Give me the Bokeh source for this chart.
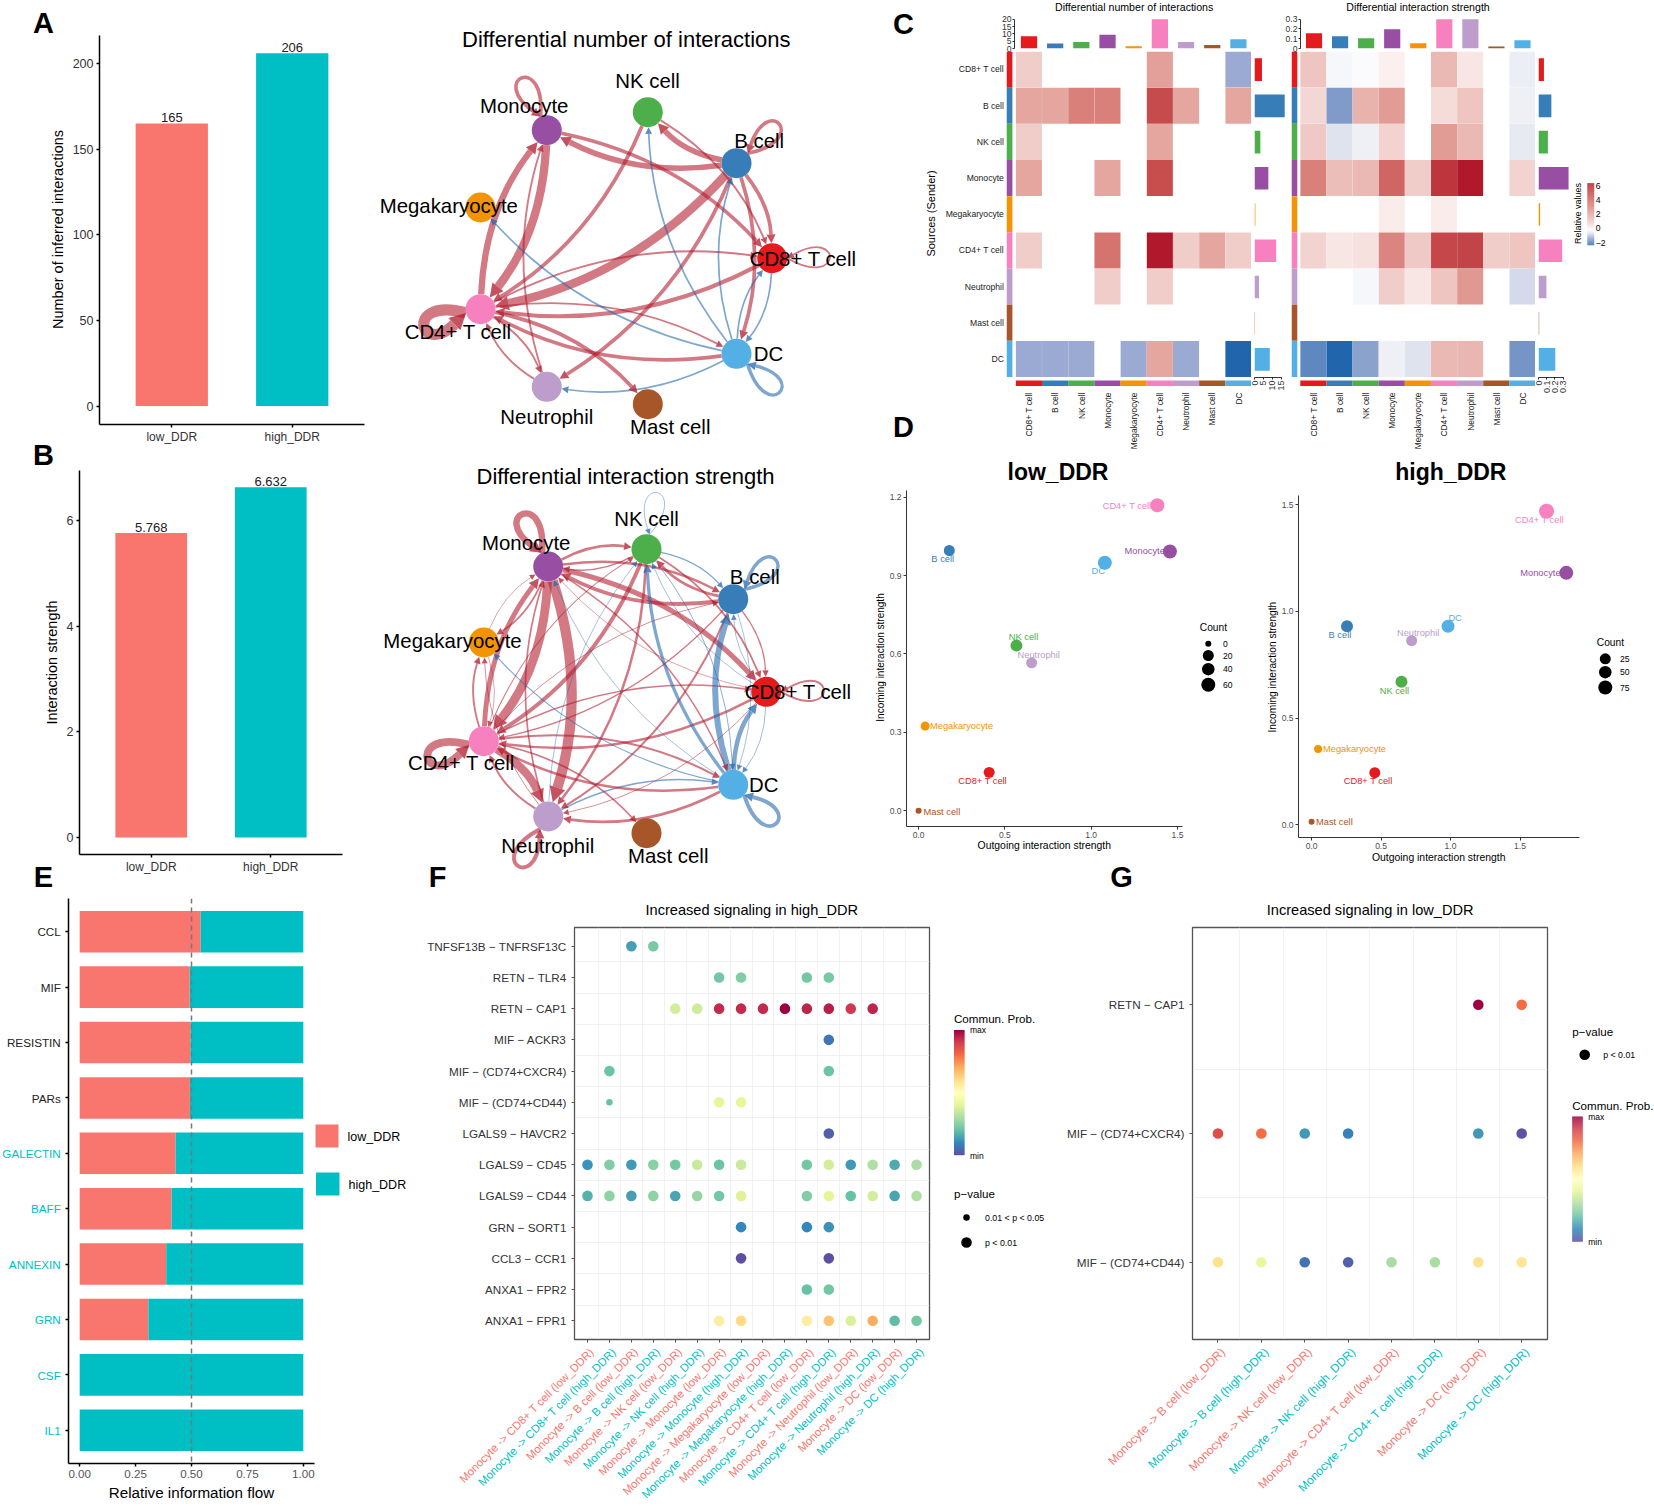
import numpy as np
from bokeh.plotting import figure
from bokeh.models import Range1d, FixedTicker, Column, LinearColorMapper, Span, ColumnDataSource, NumeralTickFormatter
from bokeh.core.properties import value
from bokeh.transform import transform
from bokeh.palettes import Spectral
from bokeh.embed import file_html
from bokeh.resources import INLINE

FONT = "Liberation Sans"
LOW = "#F8766D"
HIGH = "#00BFC4"

# ---------------------------------------------------------------- data
GROUPS = ["low_DDR", "high_DDR"]
A_VALUES = [165, 206]
B_VALUES = [5.768, 6.632]

NODES = ["CD8+ T cell", "B cell", "NK cell", "Monocyte", "Megakaryocyte", "CD4+ T cell", "Neutrophil", "Mast cell", "DC"]
NODE_COLORS = ["#E41A1C", "#377EB8", "#4DAF4A", "#984EA3", "#F29403", "#F781BF", "#BC9DCC", "#A65628", "#54B0E4"]

COUNT_DIFF = [
    [1, 0, 0, 0, 0, 2.2, 0, 0, -1],
    [2, 2, 3, 3, 0, 4.6, 2, 0, 2],
    [1, 0, 0, 0, 0, 2, 0, 0, 0],
    [2, 0, 0, 2, 0, 4.5, 0, 0, 0],
    [0, 0, 0, 0, 0, 0, 0, 0, 0],
    [1, 0, 0, 3.4, 0, 6, 1, 2, 1],
    [0, 0, 0, 1, 0, 1, 0, 0, 0],
    [0, 0, 0, 0, 0, 0, 0, 0, 0],
    [-1, -1, -1, 0, -1, 2, -1, 0, -2],
]
STRENGTH_DIFF = [
    [1.2, -0.1, -0.05, 0.3, 0, 1.5, 0.5, 0, -0.25],
    [0.8, -1.2, 1.7, 2.3, 0, 0.7, 1.2, 0, -0.2],
    [1.1, -0.4, -0.2, 0.9, 0, 2.3, 1.5, 0, -0.3],
    [3.0, 1.4, 1.5, 3.8, 1.0, 5.2, 6.0, 0, 0.9],
    [0, 0, 0, 0.4, 0, 0.4, 0, 0, 0],
    [0.9, 0.5, 0.6, 2.9, 1.1, 4.7, 4.8, 1.0, 1.2],
    [0, 0, -0.1, 1.0, 0.5, 1.2, 2.4, 0, -0.5],
    [0, 0, 0, 0, 0, 0, 0, 0, 0],
    [-1.5, -2, -1.1, -0.2, -0.4, 1.5, 1.6, 0, -1.3],
]
COUNT_TOP = [8.3, 3.4, 4.4, 9.4, 1.6, 20, 4.4, 2.4, 6.4]
COUNT_RIGHT = [4.2, 17, 3.3, 7.8, 0.5, 12.2, 2.5, 0.3, 8.6]
STRENGTH_TOP = [0.155, 0.125, 0.105, 0.197, 0.055, 0.3, 0.3, 0.02, 0.085]
STRENGTH_RIGHT = [0.066, 0.156, 0.114, 0.365, 0.02, 0.287, 0.096, 0.008, 0.204]

NET1_X = [771.7, 736, 647.3, 546.3, 480, 480, 546.3, 647.3, 736]
NET1_Y = [257.7, 162.7, 111.7, 129.7, 207, 308.7, 386.3, 403.7, 353.3]
NET2_X = [765.7, 732.7, 646, 547.7, 483.3, 483.3, 547.7, 646, 732.7]
NET2_Y = [691.3, 598.7, 548.7, 566, 642, 740.7, 816, 832.7, 784.3]
LOOP_DX = [1, 0.75, 0.2, -0.42, -1, -0.97, -0.54, 0.2, 0.73]
LOOP_DY = [0, -0.66, -0.98, -0.91, 0, 0.25, 0.84, 0.98, 0.68]
NET1_LABEL_X = [802.7, 758.7, 647, 523.7, 448.3, 457.7, 546.3, 669.7, 768]
NET1_LABEL_Y = [258.3, 140.7, 80.7, 105, 205, 331, 416, 426.3, 353]
NET2_LABEL_X = [797.7, 754.3, 646, 525.7, 452, 461, 547.3, 667.7, 763.3]
NET2_LABEL_Y = [691.3, 576.7, 518.3, 542.3, 640.7, 762.3, 845.7, 855, 784.3]

D_LOW_X = [0.409, 0.178, 0.567, 1.456, 0.038, 1.383, 0.655, 0.0, 1.079]
D_LOW_Y = [0.147, 0.996, 0.632, 0.992, 0.324, 1.169, 0.566, 0.0, 0.949]
D_LOW_SIZE = [11, 11, 12, 14, 9, 14, 11, 6, 14]
D_LOW_LABEL_X = [0.371, 0.14, 0.608, 1.31, 0.249, 1.208, 0.696, 0.135, 1.041]
D_LOW_LABEL_Y = [0.114, 0.964, 0.664, 0.994, 0.324, 1.168, 0.597, -0.005, 0.918]
D_HIGH_X = [0.455, 0.255, 0.647, 1.833, 0.047, 1.691, 0.72, 0.0, 0.982]
D_HIGH_Y = [0.244, 0.93, 0.67, 1.18, 0.355, 1.469, 0.8625, 0.014, 0.93]
D_HIGH_SIZE = [11, 12, 12, 14, 8, 15, 11, 6, 13]
D_HIGH_LABEL_X = [0.407, 0.204, 0.596, 1.647, 0.309, 1.64, 0.767, 0.164, 1.033]
D_HIGH_LABEL_Y = [0.205, 0.889, 0.628, 1.181, 0.355, 1.428, 0.9, 0.014, 0.967]

E_PATHWAYS = ["CCL", "MIF", "RESISTIN", "PARs", "GALECTIN", "BAFF", "ANNEXIN", "GRN", "CSF", "IL1"]
E_LOW_SHARE = [0.541, 0.492, 0.495, 0.493, 0.429, 0.411, 0.387, 0.307, 0.0, 0.0]
E_LABEL_COLORS = ["#222222"] * 4 + [HIGH] * 6

N = None
F_ROWS = ["TNFSF13B \u2212 TNFRSF13C", "RETN \u2212 TLR4", "RETN \u2212 CAP1", "MIF \u2212 ACKR3",
          "MIF \u2212 (CD74+CXCR4)", "MIF \u2212 (CD74+CD44)", "LGALS9 \u2212 HAVCR2", "LGALS9 \u2212 CD45",
          "LGALS9 \u2212 CD44", "GRN \u2212 SORT1", "CCL3 \u2212 CCR1", "ANXA1 \u2212 FPR2", "ANXA1 \u2212 FPR1"]
F_TARGETS = ["CD8+ T cell", "B cell", "NK cell", "Monocyte", "Megakaryocyte", "CD4+ T cell", "Neutrophil", "DC"]
F_PROB = [
    [N, N, .14, .23, N, N, N, N, N, N, N, N, N, N, N, N],
    [N, N, N, N, N, N, .22, .24, N, N, .22, .23, N, N, N, N],
    [N, N, N, N, .37, .36, .93, .93, .93, 1.0, .94, .95, .91, .94, N, N],
    [N, N, N, N, N, N, N, N, N, N, N, .07, N, N, N, N],
    [N, .21, N, N, N, N, N, N, N, N, N, .21, N, N, N, N],
    [N, .20, N, N, N, N, .41, .41, N, N, N, N, N, N, N, N],
    [N, N, N, N, N, N, N, N, N, N, N, .03, N, N, N, N],
    [.12, .24, .13, .25, .22, .35, .21, .35, N, N, .22, .37, .13, .31, .16, .30],
    [.17, .26, .14, .26, .15, .27, .22, .39, N, N, .24, .40, .20, .37, .15, .31],
    [N, N, N, N, N, N, N, .10, N, N, .10, .12, N, N, N, N],
    [N, N, N, N, N, N, N, 0.0, N, N, N, 0.0, N, N, N, N],
    [N, N, N, N, N, N, N, N, N, N, .20, .22, N, N, N, N],
    [N, N, N, N, N, N, .56, .61, N, N, .56, .66, .38, .70, .19, .22],
]
G_ROWS = ["RETN \u2212 CAP1", "MIF \u2212 (CD74+CXCR4)", "MIF \u2212 (CD74+CD44)"]
G_TARGETS = ["B cell", "NK cell", "CD4+ T cell", "DC"]
G_PROB = [
    [N, N, N, N, N, N, 1.0, .80],
    [.87, .80, .13, .09, N, N, .13, .01],
    [.59, .42, .06, .03, .30, .30, .59, .58],
]


# ---------------------------------------------------------------- helpers
def hex2rgb(h):
    return np.array([int(h[i:i + 2], 16) for i in (1, 3, 5)], dtype=float)


def rgb2hex(c):
    return "#%02x%02x%02x" % tuple(int(round(v)) for v in c)


def interp_palette(stops, n=256):
    arr = np.array([hex2rgb(s) for s in stops])
    pos = np.linspace(0, 1, len(stops))
    t = np.linspace(0, 1, n)
    return [rgb2hex([np.interp(v, pos, arr[:, k]) for k in range(3)]) for v in t]


def stops_palette(levels, colors, n=256):
    arr = np.array([hex2rgb(s) for s in colors])
    t = np.linspace(levels[0], levels[-1], n)
    return [rgb2hex([np.interp(v, levels, arr[:, k]) for k in range(3)]) for v in t]


SPECTRAL = interp_palette(list(Spectral[11]))
DIVERGING = stops_palette([-2, -1, -0.4, 0, 1, 2, 3, 4.5, 6],
                          ["#2166ac", "#9aaad2", "#dfe3ee", "#ffffff", "#f0cdc9", "#e5a7a1", "#d9817b", "#c84f4f",
                           "#b2182b"])

figs = []


def panel(l, t, r, b, xr, yr, bl=0, br=0, bt=0, bb=0, xaxis=True, yaxis=True):
    l, t, r, b = round(l), round(t), round(r), round(b)
    kw = {}
    if not xaxis:
        kw["x_axis_location"] = None
    if not yaxis:
        kw["y_axis_location"] = None
    p = figure(width=r - l + bl + br, height=b - t + bt + bb, x_range=Range1d(*xr), y_range=Range1d(*yr),
               tools="", toolbar_location=None, output_backend="svg", frame_align=False,
               min_border_left=bl, min_border_right=br, min_border_top=bt, min_border_bottom=bb,
               background_fill_color=None, border_fill_color=None, outline_line_color=None,
               styles={"position": "absolute", "left": f"{l - bl}px", "top": f"{t - bt}px"}, **kw)
    p.grid.visible = False
    figs.append(p)
    return p


def style_axis(ax, ticks, overrides=None, size=11, color="#333333", line="#000000", lw=1.0, font=FONT,
               standoff=3, tick=3):
    ax.ticker = FixedTicker(ticks=ticks)
    if overrides is not None:
        ax.major_label_overrides = overrides
    ax.minor_tick_line_color = None
    ax.major_tick_in = 0
    ax.major_tick_out = tick
    ax.axis_line_color = line
    ax.axis_line_width = lw
    ax.major_tick_line_color = line
    ax.major_tick_line_width = lw
    ax.major_label_text_font_size = f"{size}px"
    ax.major_label_text_color = color
    ax.major_label_text_font = font
    ax.major_label_standoff = standoff


canvas_ops = []


def T(x, y, s, size, color="#000000", align="center", base="middle", angle=0, font=FONT, style="normal"):
    canvas_ops.append(dict(x=x, y=y, s=s, size=size, color=color, align=align, base=base, angle=angle,
                           font=font, style=style))


def R(l, t, r, b, color):
    canvas_ops.append(dict(rect=(l, t, r, b), color=color))


def C(x, y, d, color="#000000"):
    canvas_ops.append(dict(dot=(x, y, d), color=color))


# ---------------------------------------------------------------- panels A, B
def bar_panel(vals, l, t, r, b, y0px, unit, ticks, labels, fmt):
    yr = ((y0px - b) / unit, (y0px - t) / unit)
    p = panel(l, t, r, b, (0.4, 2.6), yr, bl=50, bb=30, bt=2, br=2)
    p.vbar(x=[1, 2], top=vals, bottom=0, width=0.6, fill_color=[LOW, HIGH], line_color=None)
    p.text(x=[1, 2], y=vals, text=[fmt % v for v in vals], text_align="center", text_baseline="bottom",
           text_font_size="13px", text_font=value(FONT), text_color="#222222", y_offset=-1)
    style_axis(p.xaxis[0], [1, 2], {1: GROUPS[0], 2: GROUPS[1]}, size=12, lw=1.5, standoff=2)
    style_axis(p.yaxis[0], ticks, labels, size=12.5, lw=1.5)
    return p


bar_panel(A_VALUES, 98.7, 35, 364, 424.5, 406, 1.715, [0, 50, 100, 150, 200], None, "%d")
bar_panel(B_VALUES, 78.7, 470, 342, 854, 837, 52.8, [0, 2, 4, 6], None, "%.3f")
T(57.3, 229, "Number of inferred interactions", 14.5, angle=90)
T(51.7, 662, "Interaction strength", 14.5, angle=90)


# ---------------------------------------------------------------- networks
def arrow_poly(tx, ty, ux, uy, w):
    ln = 5 + 1.0 * w
    hw = 2.5 + 0.55 * w
    bx, by = tx + ln * ux, ty + ln * uy
    return [tx, bx - hw * uy, bx + hw * uy], [ty, by + hw * ux, by - hw * ux], bx, by


def network(nx, ny, mat, top, bottom, red_scale, blue_scale):
    p = panel(370, top, 880, bottom, (370, 880), (bottom, top), xaxis=False, yaxis=False)
    r = 15
    q = dict(x0=[], y0=[], x1=[], y1=[], cx=[], cy=[], w=[], c=[])
    bz = dict(x0=[], y0=[], x1=[], y1=[], cx0=[], cy0=[], cx1=[], cy1=[], w=[], c=[])
    ax, ay, ac = [], [], []
    for i in range(9):
        for j in range(9):
            v = mat[i][j]
            if v == 0:
                continue
            col = "#b2182b" if v > 0 else "#2166ac"
            w = max(0.7, (red_scale if v > 0 else blue_scale) * abs(v))
            if i == j:
                dx, dy = LOOP_DX[i], LOOP_DY[i]
                px, py = -dy, dx
                sx, sy = nx[i] + r * dx, ny[i] + r * dy
                c1 = (nx[i] + 71 * dx + 32 * px, ny[i] + 71 * dy + 32 * py)
                c2 = (nx[i] + 71 * dx - 32 * px, ny[i] + 71 * dy - 32 * py)
                ux, uy = c2[0] - sx, c2[1] - sy
                n = np.hypot(ux, uy)
                ux, uy = ux / n, uy / n
                xs, ys, bx, by = arrow_poly(sx, sy, ux, uy, w)
                ax.append(xs); ay.append(ys); ac.append(col)
                bz["x0"].append(sx); bz["y0"].append(sy); bz["x1"].append(bx); bz["y1"].append(by)
                bz["cx0"].append(c1[0]); bz["cy0"].append(c1[1]); bz["cx1"].append(c2[0]); bz["cy1"].append(c2[1])
                bz["w"].append(w); bz["c"].append(col)
            else:
                dx, dy = nx[j] - nx[i], ny[j] - ny[i]
                cx = (nx[i] + nx[j]) / 2 + 0.16 * dy
                cy = (ny[i] + ny[j]) / 2 - 0.16 * dx
                a = np.hypot(cx - nx[i], cy - ny[i])
                sx = nx[i] + r * (cx - nx[i]) / a
                sy = ny[i] + r * (cy - ny[i]) / a
                b = np.hypot(cx - nx[j], cy - ny[j])
                ux, uy = (cx - nx[j]) / b, (cy - ny[j]) / b
                xs, ys, bx, by = arrow_poly(nx[j] + r * ux, ny[j] + r * uy, ux, uy, w)
                ax.append(xs); ay.append(ys); ac.append(col)
                q["x0"].append(sx); q["y0"].append(sy); q["x1"].append(bx); q["y1"].append(by)
                q["cx"].append(cx); q["cy"].append(cy); q["w"].append(w); q["c"].append(col)
    p.quadratic(x0="x0", y0="y0", x1="x1", y1="y1", cx="cx", cy="cy", line_width="w", line_color="c",
                line_alpha=0.58, source=ColumnDataSource(q))
    p.bezier(x0="x0", y0="y0", x1="x1", y1="y1", cx0="cx0", cy0="cy0", cx1="cx1", cy1="cy1", line_width="w",
             line_color="c", line_alpha=0.58, source=ColumnDataSource(bz))
    p.patches(xs=ax, ys=ay, fill_color=ac, fill_alpha=0.75, line_color=None)
    p.scatter(x=nx, y=ny, size=30, marker="circle", fill_color=NODE_COLORS, line_color=None)


network(NET1_X, NET1_Y, COUNT_DIFF, 55, 445, 1.85, 1.7)
network(NET2_X, NET2_Y, STRENGTH_DIFF, 490, 880, 1.7, 3.0)
T(625.8, 39, "Differential number of interactions", 22)
T(625, 476, "Differential interaction strength", 22)
for i, n in enumerate(NODES):
    T(NET1_LABEL_X[i], NET1_LABEL_Y[i], n, 20.4)
    T(NET2_LABEL_X[i], NET2_LABEL_Y[i], n, 20.4)


# ---------------------------------------------------------------- panel C
def heat_group(mat, col0, strip_l, strip_r, top_vals, top_axis_x, top_ticks, top_labels, top_unit,
               right_vals, right_x, right_unit, right_ticks, right_labels):
    cw, rh, y0 = 26.16, 36.2, 50.7
    hr = col0 + 9 * cw
    xr = ((strip_l - col0) / cw, (hr - col0) / cw)
    yr = ((386 - y0) / rh, 0)
    p = panel(strip_l, y0, hr, 386, xr, yr, xaxis=False, yaxis=False)
    mapper = LinearColorMapper(palette=DIVERGING, low=-2, high=6)
    cells = dict(x=[], y=[], v=[])
    for i in range(9):
        for j in range(9):
            if mat[i][j] != 0:
                cells["x"].append(j + 0.5)
                cells["y"].append(i + 0.5)
                cells["v"].append(mat[i][j])
    p.rect(x="x", y="y", width=0.995, height=0.995, fill_color=transform("v", mapper), line_color=None,
           source=ColumnDataSource(cells))
    p.quad(left=(strip_l - col0) / cw, right=(strip_r - col0) / cw, top=list(range(9)),
           bottom=list(range(1, 10)), fill_color=NODE_COLORS, line_color=None)
    p.quad(left=list(range(9)), right=list(range(1, 10)), top=(380 - y0) / rh, bottom=(386 - y0) / rh,
           fill_color=NODE_COLORS, line_color=None)

    # top bars
    tp = panel(top_axis_x, 16, hr, 47.7, ((top_axis_x - col0) / cw, 9), (0, 31.7 / top_unit), bl=40, bb=10, bt=10,
               br=1, xaxis=False)
    tp.vbar(x=[i + 0.5 for i in range(9)], top=top_vals, bottom=0, width=0.62, fill_color=NODE_COLORS,
            line_color=None)
    style_axis(tp.yaxis[0], top_ticks, top_labels, size=8.6, lw=0.8, standoff=1, tick=2)
    tp.yaxis[0].bounds = (top_ticks[0], top_ticks[-1])

    # right bars
    w = 37
    rp = panel(right_x, y0, right_x + w, 376.7, (0, w / right_unit), (9, 0), bl=8, bb=30, bt=8, br=8, yaxis=False)
    rp.hbar(y=[i + 0.5 for i in range(9)], right=right_vals, left=0, height=0.625, fill_color=NODE_COLORS,
            line_color=None)
    style_axis(rp.xaxis[0], right_ticks, right_labels, size=9, lw=0.8, standoff=1, tick=2)
    rp.xaxis[0].major_label_orientation = np.pi / 2
    rp.xaxis[0].bounds = (right_ticks[0], right_ticks[-1])

    for i, n in enumerate(NODES):
        T(col0 + (i + 0.5) * cw, 392, n, 8.4, align="right", angle=90, color="#222222")


heat_group(COUNT_DIFF, 1015.7, 1006.4, 1012.3, COUNT_TOP, 1014.3, [0, 5, 10, 15, 20], None, 1.45,
           COUNT_RIGHT, 1253.6, 1.777, [0, 5, 10, 15], None)
heat_group(STRENGTH_DIFF, 1300, 1291.2, 1297, STRENGTH_TOP, 1299.5, [0, 0.1, 0.2, 0.3],
           {0: "0", 0.1: "0.1", 0.2: "0.2", 0.3: "0.3"}, 96.67,
           STRENGTH_RIGHT, 1538, 82.4, [0, 0.1, 0.2, 0.3], {0: "0", 0.1: "0.1", 0.2: "0.2", 0.3: "0.3"})
for i, n in enumerate(NODES):
    T(1003.4, 50.7 + 36.2 * (i + 0.5), n, 8.6, align="right", color="#222222")
T(1133.7, 6, "Differential number of interactions", 10.6)
T(1417.5, 6, "Differential interaction strength", 10.6)
T(930.8, 213, "Sources (Sender)", 11, angle=90)
T(1577.4, 213, "Relative values", 9, angle=90)
for k in range(62):
    f = k / 62
    idx = int((1 - f) * 255)
    R(1586.8, 182.7 + k, 1593.7, 183.8 + k, DIVERGING[idx])
for v, y in zip(["6", "4", "2", "0", "\u22122"], [185.7, 199.7, 213.7, 227.7, 242.3]):
    T(1595.2, y, v, 8.6, align="left")


# ---------------------------------------------------------------- panel D
def scatter_panel(l, t, r, b, x0px, xunit, y0px, yunit, xs, ys, sizes, lx, ly, xticks, yticks):
    xr = ((l - x0px) / xunit, (r - x0px) / xunit)
    yr = ((y0px - b) / yunit, (y0px - t) / yunit)
    p = panel(l, t, r, b, xr, yr, bl=40, bb=26, bt=2, br=4)
    p.scatter(x=xs, y=ys, size=sizes, marker="circle", fill_color=NODE_COLORS, line_color=None)
    p.text(x=lx, y=ly, text=NODES, text_color=NODE_COLORS, text_align="center", text_baseline="middle",
           text_font_size="9.3px", text_font=value(FONT))
    style_axis(p.xaxis[0], xticks, None, size=8.5, color="#4d4d4d", line="#333333", standoff=2)
    style_axis(p.yaxis[0], yticks, None, size=8.5, color="#4d4d4d", line="#333333", standoff=2)
    p.xaxis[0].formatter = NumeralTickFormatter(format="0.0")
    p.yaxis[0].formatter = NumeralTickFormatter(format="0.0")


scatter_panel(905.6, 490, 1182.5, 825.7, 917.7, 173.2, 810, 261.1, D_LOW_X, D_LOW_Y, D_LOW_SIZE,
              D_LOW_LABEL_X, D_LOW_LABEL_Y, [0, 0.5, 1.0, 1.5], [0, 0.3, 0.6, 0.9, 1.2])
scatter_panel(1297.5, 495, 1579, 836.7, 1310.6, 139.2, 824, 213.3, D_HIGH_X, D_HIGH_Y, D_HIGH_SIZE,
              D_HIGH_LABEL_X, D_HIGH_LABEL_Y, [0, 0.5, 1.0, 1.5], [0, 0.5, 1.0, 1.5])
T(1057.5, 471, "low_DDR", 23, style="bold")
T(1450.4, 471, "high_DDR", 23, style="bold")
T(1043.8, 844.7, "Outgoing interaction strength", 10.4)
T(1438.2, 856.7, "Outgoing interaction strength", 10.4)
T(880.3, 657, "Incoming interaction strength", 10, angle=90)
T(1272, 666.7, "Incoming interaction strength", 10.2, angle=90)
T(1212.9, 627, "Count", 10.2)
for lab, y, d in zip(["0", "20", "40", "60"], [643.3, 655, 668.7, 684.3], [6, 11, 12.5, 14]):
    C(1207.8, y, d)
    T(1222.5, y, lab, 8.6, align="left")
T(1609.9, 642, "Count", 10.2)
for lab, y, d in zip(["25", "50", "75"], [658.3, 671.7, 687], [11, 12.5, 14]):
    C(1604.8, y, d)
    T(1619.5, y, lab, 8.6, align="left")

# ---------------------------------------------------------------- panel E
e_rows = np.arange(10)
p = panel(67.7, 898, 314, 1462.8, (-0.05, 1.05), (9.6, -0.6), bl=6, bb=26, bt=2, br=14)
p.hbar(y=e_rows, left=0, right=E_LOW_SHARE, height=0.75, fill_color=LOW, line_color=None)
p.hbar(y=e_rows, left=E_LOW_SHARE, right=1, height=0.75, fill_color=HIGH, line_color=None)
p.add_layout(Span(location=0.5, dimension="height", line_color="#777777", line_dash="5 4", line_width=1.5))
style_axis(p.xaxis[0], [0, 0.25, 0.5, 0.75, 1.0], None, size=11.6, color="#555555", lw=1.5)
p.xaxis[0].formatter = NumeralTickFormatter(format="0.00")
style_axis(p.yaxis[0], [int(i) for i in e_rows], {int(i): "" for i in e_rows}, lw=1.5)
for i, n in enumerate(E_PATHWAYS):
    T(60.3, 931.3 + 55.4 * i, n, 11.7, color=E_LABEL_COLORS[i], align="right")
T(191, 1492, "Relative information flow", 15.2)
R(315, 1124, 338, 1147, LOW)
R(315.5, 1172, 339, 1195, HIGH)
T(347, 1136, GROUPS[0], 12.5, align="left")
T(348, 1184, GROUPS[1], 12.5, align="left")


# ---------------------------------------------------------------- panels F, G
def dot_panel(l, r, col0, colw, rows, probs, targets_per_group, title, small=(), label_size=11.9):
    nr, nc = len(rows), len(probs[0])
    xr = ((l - col0) / colw, (r - col0) / colw)
    p = panel(l, 927.3, r, 1339, xr, (nr - 0.4, -0.6), bl=170, bb=10, bt=2, br=2)
    mapper = LinearColorMapper(palette=SPECTRAL, low=0, high=1)
    d = dict(x=[], y=[], v=[], s=[])
    for i in range(nr):
        for j in range(nc):
            if probs[i][j] is not None:
                d["x"].append(j)
                d["y"].append(i)
                d["v"].append(probs[i][j])
                d["s"].append(6.5 if (i, j) in small else 10.6)
    p.grid.visible = True
    p.xgrid[0].ticker = FixedTicker(ticks=[j + 0.5 for j in range(nc - 1)])
    p.ygrid[0].ticker = FixedTicker(ticks=[i + 0.5 for i in range(nr - 1)])
    p.grid.grid_line_color = "#eeeeee"
    p.grid.grid_line_width = 0.8
    p.scatter(x="x", y="y", size="s", marker="circle", fill_color=transform("v", mapper), line_color=None,
              source=ColumnDataSource(d))
    p.outline_line_color = "#555555"
    p.outline_line_width = 1.3
    style_axis(p.yaxis[0], list(range(nr)), {i: n for i, n in enumerate(rows)}, size=11.7, line="#555555",
               standoff=5)
    style_axis(p.xaxis[0], list(range(nc)), {j: "" for j in range(nc)}, line="#555555")
    names = []
    for t in targets_per_group:
        for g in GROUPS:
            names.append(f"Monocyte -> {t} ({g})")
    for j, n in enumerate(names):
        T(col0 + j * colw + 5, 1349.5, n, label_size, color=LOW if j % 2 == 0 else HIGH, align="right", angle=45)
    T((l + r) / 2, 909.6, title, 14.6)


dot_panel(573.5, 929, 586.5, 21.97, F_ROWS, F_PROB, F_TARGETS, "Increased signaling in high_DDR", small={(5, 1)},
          label_size=11.4)
dot_panel(1191.9, 1547.4, 1217.4, 43.45, G_ROWS, G_PROB, G_TARGETS, "Increased signaling in low_DDR")


def prob_legend(x, y_title, y0, y1, size=11.6):
    T(x, y_title, "Commun. Prob.", size, align="left")
    n = int(y1 - y0)
    for k in range(n):
        idx = int((1 - k / n) * 255)
        R(x, y0 + k, x + 10.6, y0 + k + 1.2, SPECTRAL[idx])
    T(x + 16, y0, "max", 8.5, align="left")
    T(x + 16, y1, "min", 8.5, align="left")


prob_legend(953.5, 1017.7, 1029.5, 1155)
T(953.5, 1193, "p\u2212value", 11.6, align="left")
C(966, 1217, 6.5)
T(984.5, 1217, "0.01 < p < 0.05", 8.8, align="left")
C(966, 1242, 10.6)
T(984.5, 1242, "p < 0.01", 8.8, align="left")
T(1571.7, 1030.7, "p\u2212value", 11.6, align="left")
C(1584.2, 1054.2, 10.6)
T(1602.7, 1054.2, "p < 0.01", 8.8, align="left")
prob_legend(1571.7, 1104.5, 1116, 1241.7, size=11.6)

# ---------------------------------------------------------------- panel letters
for s, x, y in [("A", 43, 22), ("B", 43, 454), ("C", 903, 23), ("D", 903, 426), ("E", 43, 876), ("F", 437, 876),
                ("G", 1121, 876)]:
    T(x, y, s, 29, style="bold")

# ---------------------------------------------------------------- overlay for texts and legends
canvas = panel(0, 0, 1654, 1506, (0, 1654), (1506, 0), xaxis=False, yaxis=False)
for op in canvas_ops:
    if "rect" in op:
        l, t, r, b = op["rect"]
        canvas.quad(left=[l], right=[r], top=[t], bottom=[b], fill_color=op["color"], line_color=None)
    elif "dot" in op:
        x, y, d = op["dot"]
        canvas.scatter(x=[x], y=[y], size=d, marker="circle", fill_color=op["color"], line_color=None)
    else:
        canvas.text(x=[op["x"]], y=[op["y"]], text=[op["s"]], text_font_size=f'{op["size"]}px',
                    text_color=op["color"], text_align=op["align"], text_baseline=op["base"],
                    angle=op["angle"], angle_units="deg", text_font=value(op["font"]),
                    text_font_style=op["style"])

root = Column(children=figs, width=1654, height=1506, styles={"position": "absolute", "left": "0px", "top": "0px"})
open("out.html", "w").write(file_html(root, INLINE))
